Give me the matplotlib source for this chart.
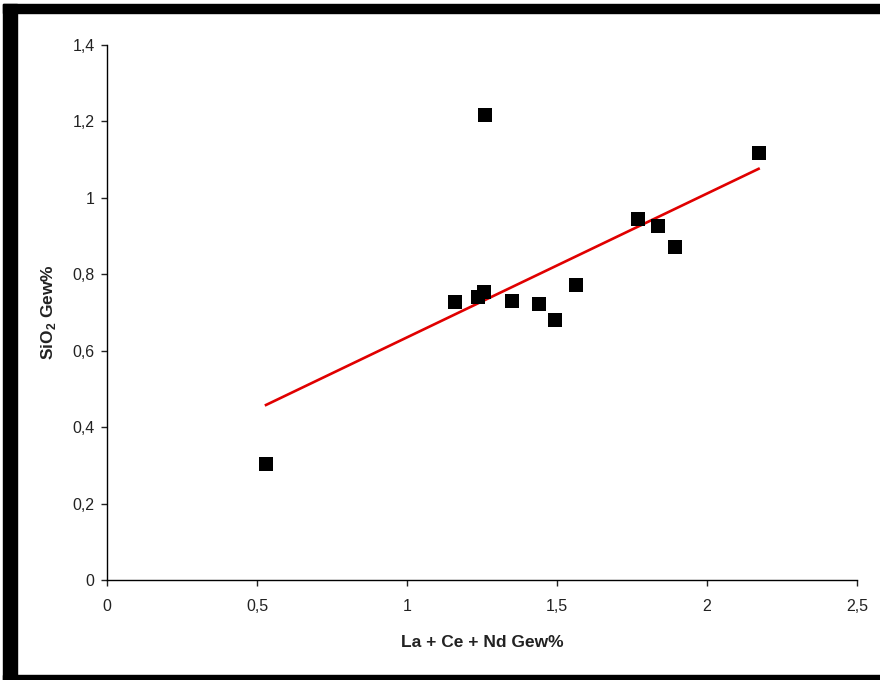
import matplotlib
matplotlib.use("Agg")
import matplotlib.pyplot as plt
from matplotlib.patches import Rectangle
from matplotlib.ticker import FuncFormatter, MultipleLocator
import numpy as np

plt.rcParams['font.family'] = ['Liberation Sans', 'DejaVu Sans']
plt.rcParams['mathtext.fontset'] = 'custom'
plt.rcParams['mathtext.rm'] = 'Liberation Sans'
plt.rcParams['mathtext.bf'] = 'Liberation Sans:bold'

# data
ree_sum = [0.53, 1.16, 1.26, 1.237, 1.257, 1.35, 1.44, 1.493, 1.563, 1.771, 1.835, 1.894, 2.172]
sio2 = [0.304, 0.728, 1.217, 0.741, 0.754, 0.730, 0.722, 0.680, 0.772, 0.944, 0.927, 0.872, 1.117]
trend_x = [0.53, 2.172]
trend_y = [0.458, 1.076]

fig = plt.figure(figsize=(8.8, 6.8), dpi=100)
ax = fig.add_axes([107/880, 100/680, 750/880, 535/680])

ax.scatter(ree_sum, sio2, marker='s', s=100, color='black', zorder=3, linewidths=0)
ax.plot(trend_x, trend_y, color='#e00000', lw=1.9, zorder=2)

ax.set_xlim(0, 2.5)
ax.set_ylim(0, 1.4)
ax.xaxis.set_major_locator(MultipleLocator(0.5))
ax.yaxis.set_major_locator(MultipleLocator(0.2))
fmt = FuncFormatter(lambda v, p: ('%g' % round(v, 2)).replace('.', ','))
ax.xaxis.set_major_formatter(fmt)
ax.yaxis.set_major_formatter(fmt)

for s in ['top', 'right']:
    ax.spines[s].set_visible(False)
for s in ['left', 'bottom']:
    ax.spines[s].set_linewidth(1.0)
    ax.spines[s].set_color('black')
ax.tick_params(direction='out', length=4, width=1, labelsize=11.5, colors='#222222')
ax.tick_params(axis='x', pad=10)
ax.tick_params(axis='y', pad=5)

ax.set_xlabel('La + Ce + Nd Gew%', fontsize=12.5, fontweight='bold', labelpad=15, color='#222222')
ax.set_ylabel(r'SiO$_\mathbf{2}$ Gew%', fontsize=12.5, fontweight='bold', labelpad=10, color='#222222')

# black frame around picture
fig.patches.append(Rectangle((3/880, 667/680), 877/880, 9/680, transform=fig.transFigure,
                             color='black', zorder=10))
fig.patches.append(Rectangle((3/880, 0), 14/880, 676/680, transform=fig.transFigure,
                             color='black', zorder=10))
fig.patches.append(Rectangle((3/880, 0), 877/880, 5/680, transform=fig.transFigure,
                             color='black', zorder=10))

fig.savefig('out.png', dpi=100)
